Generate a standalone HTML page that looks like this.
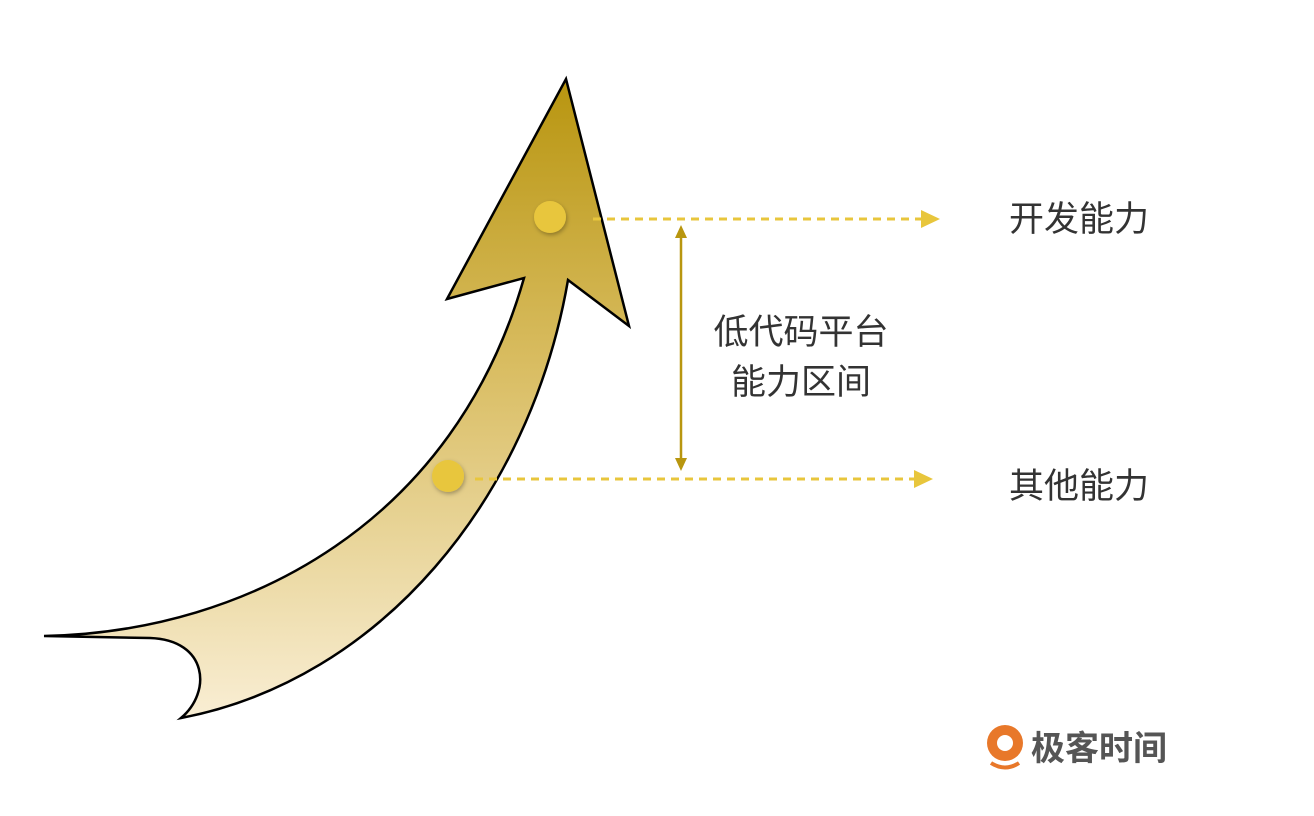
<!DOCTYPE html>
<html><head><meta charset="utf-8"><style>
html,body{margin:0;padding:0;background:#fff;}
svg{display:block}
text{font-family:"Liberation Sans","Noto Sans CJK SC",sans-serif;fill:#333;}
</style></head><body>
<svg width="1314" height="816" viewBox="0 0 1314 816" xmlns="http://www.w3.org/2000/svg">
<defs>
<linearGradient id="g" x1="0" y1="79" x2="0" y2="718" gradientUnits="userSpaceOnUse">
<stop offset="0" stop-color="#b8950f"/>
<stop offset="0.45" stop-color="#d9bd62"/>
<stop offset="1" stop-color="#f9eed4"/>
</linearGradient>
<filter id="sh" x="-50%" y="-50%" width="200%" height="200%"><feDropShadow dx="1" dy="2" stdDeviation="2" flood-opacity="0.3"/></filter>
</defs>
<path d="M44,636 C250,632 455,520 524,278 L447,299 L566,79 L629,326 L568,280 C530,500 380,680 181,718 C212,692 208,640 150,638 Z" fill="url(#g)" stroke="#000" stroke-width="2.5" stroke-linejoin="miter"/>
<circle cx="550" cy="217" r="16" fill="#e8c63c" filter="url(#sh)"/>
<circle cx="448" cy="476" r="16" fill="#e8c63c" filter="url(#sh)"/>
<line x1="593" y1="219" x2="924" y2="219" stroke="#e8c63c" stroke-width="3" stroke-dasharray="8,6"/>
<polygon points="921,210 940,219 921,228" fill="#e8c63c"/>
<line x1="475" y1="479" x2="917" y2="479" stroke="#e8c63c" stroke-width="3" stroke-dasharray="8,6"/>
<polygon points="914,470 933,479 914,488" fill="#e8c63c"/>
<line x1="681" y1="234" x2="681" y2="462" stroke="#b8960f" stroke-width="2.5"/>
<polygon points="675,238 681,225 687,238" fill="#b8960f"/>
<polygon points="675,458 681,471 687,458" fill="#b8960f"/>
<text x="1009" y="231" font-size="35">开发能力</text>
<text x="1009" y="498" font-size="35">其他能力</text>
<text x="801" y="344" font-size="35" text-anchor="middle">低代码平台</text>
<text x="801" y="394" font-size="35" text-anchor="middle">能力区间</text>
<circle cx="1005" cy="743" r="18" fill="#e8782a"/>
<circle cx="1005" cy="743" r="8" fill="#fff"/>
<path d="M991,763 Q1005,772 1019,763" stroke="#e8782a" stroke-width="4" fill="none"/>
<text x="1031" y="760" font-size="34" font-weight="bold" style="fill:#555">极客时间</text>
</svg>
</body></html>
